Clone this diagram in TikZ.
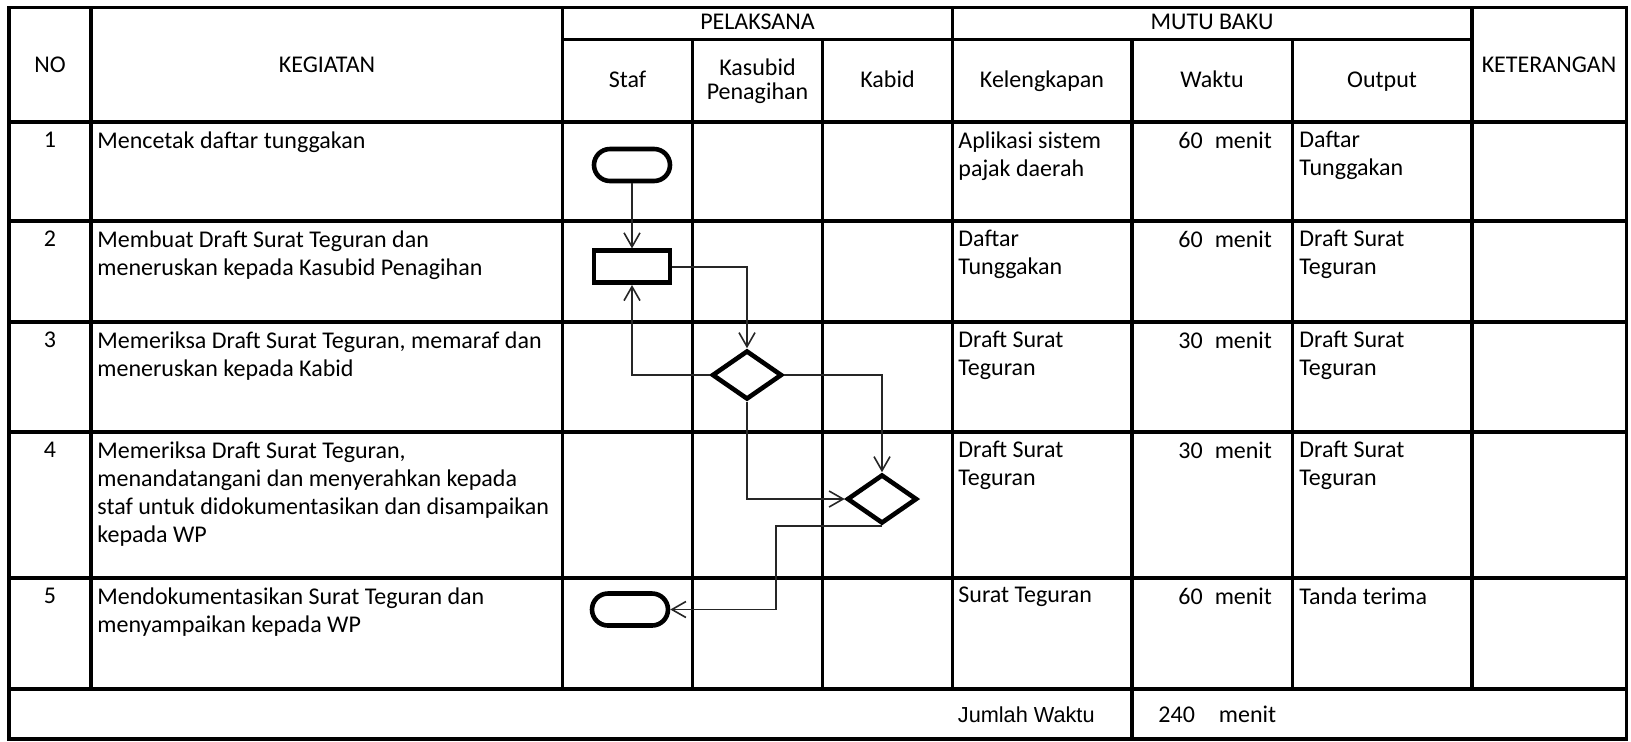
\documentclass[tikz,border=0pt]{standalone}
\usepackage{fontspec}
\setmainfont{Carlito}
\newfontfamily\arialfont{Liberation Sans}
\usepackage{tikz}
\usetikzlibrary{arrows.meta,shapes.geometric}
\newcommand\bodyfont{\fontsize{12}{14}\selectfont}
\newcommand\tightfont{\fontsize{12}{12}\selectfont}

\begin{document}
\begin{tikzpicture}[x=0.5pt, y=-0.5pt,
			grid/.style={line width=1.7pt},
			cell/.style={anchor=north west, align=left, inner sep=0pt, font=\bodyfont},
			num/.style={cell, anchor=north},
			head/.style={anchor=base, align=center, inner sep=0pt, font=\bodyfont},
			term/.style={draw, line width=2.3pt, rounded corners=8pt, minimum width=38pt, minimum height=16pt, inner sep=0pt},
			proc/.style={draw, line width=2.3pt, minimum width=38pt, minimum height=16pt, inner sep=0pt},
			decision/.style={draw, diamond, line width=2.3pt, minimum width=35pt, minimum height=24.5pt, inner sep=0pt},
			flow/.style={line width=0.8pt, black!85, -{Straight Barb[length=7pt, width=8pt]}}]
		\useasboundingbox (0,0) rectangle (1631,741);

		\draw[grid] (9,7.5) rectangle (1626.5,739);
		\draw[grid] (9,122) -- (1626.5,122) (9,221) -- (1626.5,221) (9,322) -- (1626.5,322)
			(9,432) -- (1626.5,432) (9,578) -- (1626.5,578) (9,689) -- (1626.5,689);
		\draw[grid] (562.5,39.5) -- (1472,39.5);
		\draw[grid] (91,7.5) -- (91,689) (562.5,7.5) -- (562.5,689) (692.5,39.5) -- (692.5,689)
			(822.5,39.5) -- (822.5,689) (952.5,7.5) -- (952.5,689) (1132,39.5) -- (1132,739)
			(1292.5,39.5) -- (1292.5,689) (1472,7.5) -- (1472,689);

		\node[head] (hno) at (50,72) {NO};
		\node[head] (hkeg) at (327,72) {KEGIATAN};
		\node[head] (hpel) at (757.5,29.5) {PELAKSANA};
		\node[head] (hmutu) at (1212,29.5) {MUTU BAKU};
		\node[head] (hket) at (1549,72) {KETERANGAN};
		\node[head] (hstaf) at (627.5,87) {Staf};
		\node[head, anchor=center, font=\tightfont] (hkasubid) at (757.5,81) {Kasubid\\Penagihan};
		\node[head] (hkabid) at (887.5,87) {Kabid};
		\node[head] (hkel) at (1042,87) {Kelengkapan};
		\node[head] (hwaktu) at (1212,87) {Waktu};
		\node[head] (hout) at (1382,87) {Output};

		\node[num] (no1) at (50,132) {1};
		\node[cell] (keg1) at (97,131) {Mencetak daftar tunggakan};
		\node[cell] (kel1) at (958,131) {Aplikasi sistem\\pajak daerah};
		\node[cell] (wkt1) at (1178,132) {60\enspace menit};
		\node[cell] (out1) at (1299,131) {Daftar\\Tunggakan};

		\node[num] (no2) at (50,231) {2};
		\node[cell] (keg2) at (97,230) {Membuat Draft Surat Teguran dan\\meneruskan kepada Kasubid Penagihan};
		\node[cell] (kel2) at (958,230) {Daftar\\Tunggakan};
		\node[cell] (wkt2) at (1178,231) {60\enspace menit};
		\node[cell] (out2) at (1299,230) {Draft Surat\\Teguran};

		\node[num] (no3) at (50,332) {3};
		\node[cell] (keg3) at (97,331) {Memeriksa Draft Surat Teguran, memaraf dan\\meneruskan kepada Kabid};
		\node[cell] (kel3) at (958,331) {Draft Surat\\Teguran};
		\node[cell] (wkt3) at (1178,332) {30\enspace menit};
		\node[cell] (out3) at (1299,331) {Draft Surat\\Teguran};

		\node[num] (no4) at (50,442) {4};
		\node[cell] (keg4) at (97,441) {Memeriksa Draft Surat Teguran,\\menandatangani dan menyerahkan kepada\\staf untuk didokumentasikan dan disampaikan\\kepada WP};
		\node[cell] (kel4) at (958,441) {Draft Surat\\Teguran};
		\node[cell] (wkt4) at (1178,442) {30\enspace menit};
		\node[cell] (out4) at (1299,441) {Draft Surat\\Teguran};

		\node[num] (no5) at (50,588) {5};
		\node[cell] (keg5) at (97,587) {Mendokumentasikan Surat Teguran dan\\menyampaikan kepada WP};
		\node[cell] (kel5) at (958,587) {Surat Teguran};
		\node[cell] (wkt5) at (1178,588) {60\enspace menit};
		\node[cell] (out5) at (1299,587) {Tanda terima};

		\node[anchor=base west, inner sep=0pt, font=\arialfont\fontsize{10.85}{13}\selectfont] (jml) at (957.5,722) {Jumlah Waktu};
		\node[anchor=base west, inner sep=0pt, font=\bodyfont] (total) at (1158,722) {240\quad menit};

		\node[term] (t1) at (632,165) {};
		\node[proc] (p2) at (632,266.7) {};
		\node[decision] (d3) at (747,375) {};
		\node[decision] (d4) at (882,499) {};
		\node[term] (t5) at (630,609.5) {};

		\draw[flow] (t1) -- (p2);
		\draw[flow] (p2.east) -| (d3.north);
		\draw[flow] (d3.west) -| (p2.south);
		\draw[flow] (d3.east) -| (d4.north);
		\draw[flow] (d3.south) |- (d4.west);
		\draw[flow] (d4.south) -- ++(-106,0) |- (t5.east);
	\end{tikzpicture}
\end{document}
